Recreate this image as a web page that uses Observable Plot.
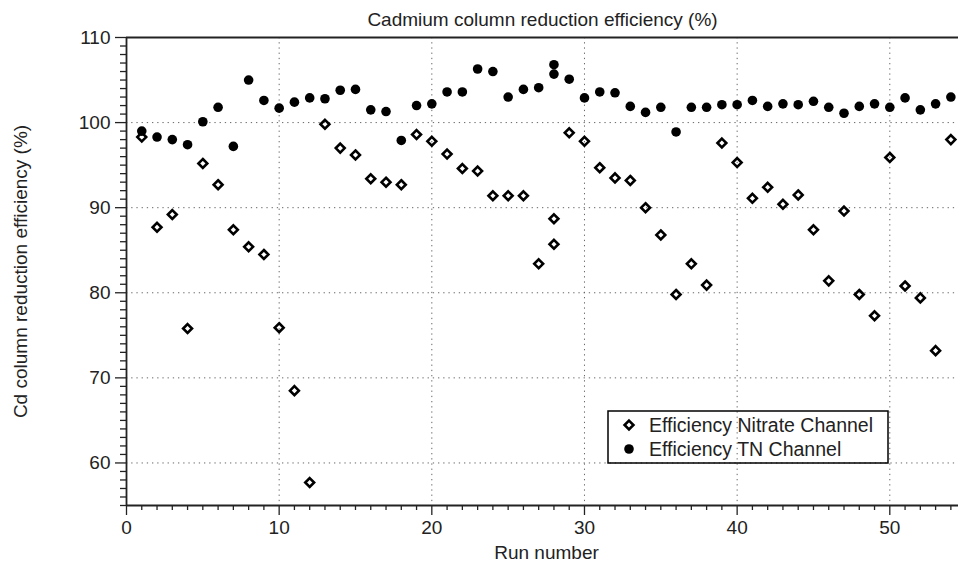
<!DOCTYPE html>
<html>
<head>
<meta charset="utf-8">
<script src="https://cdn.jsdelivr.net/npm/d3@7"></script>
<script src="https://cdn.jsdelivr.net/npm/@observablehq/plot@0.6"></script>
<style>
  html, body { margin: 0; padding: 0; background: #fff; }
</style>
</head>
<body>
<div id="chart"></div>
<script>
const runs = [1,2,3,4,5,6,7,8,9,10,11,12,13,14,15,16,17,18,19,20,21,22,23,24,25,26,27,28,28,29,30,31,32,33,34,35,36,37,38,39,40,41,42,43,44,45,46,47,48,49,50,51,52,53,54];
const nitrate = [98.3,87.7,89.2,75.8,95.2,92.7,87.4,85.4,84.5,75.9,68.5,57.7,99.8,97.0,96.2,93.4,93.0,92.7,98.6,97.8,96.3,94.6,94.3,91.4,91.4,91.4,83.4,85.7,88.7,98.8,97.8,94.7,93.5,93.2,90.0,86.8,79.8,83.4,80.9,97.6,95.3,91.1,92.4,90.4,91.5,87.4,81.4,89.6,79.8,77.3,95.9,80.8,79.4,73.2,98.0];
const tn = [99.0,98.3,98.0,97.4,100.1,101.8,97.2,105.0,102.6,101.7,102.4,102.9,102.8,103.8,103.9,101.5,101.3,97.9,102.0,102.2,103.6,103.6,106.3,106.0,103.0,103.9,104.1,106.8,105.7,105.1,102.9,103.6,103.5,101.9,101.2,101.8,98.9,101.8,101.8,102.1,102.1,102.6,101.9,102.2,102.1,102.5,101.8,101.1,101.9,102.2,101.8,102.9,101.5,102.2,103.0];
const seriesNames = ["Efficiency Nitrate Channel", "Efficiency TN Channel"];
const xMajor = [0,10,20,30,40,50];
const yMajor = [60,70,80,90,100,110];
const titleText = "Cadmium column reduction efficiency (%)";
const xLabel = "Run number";
const yLabel = "Cd column reduction efficiency (%)";

const nitrateData = runs.map((r, i) => ({run: r, value: nitrate[i]}));
const tnData = runs.map((r, i) => ({run: r, value: tn[i]}));

const xMinor = d3.range(0, 55, 1).filter(v => v % 10 !== 0);
const yMinor = d3.range(55, 111, 1).filter(v => v % 10 !== 0);
const grid = {stroke: "#666", strokeOpacity: 1, strokeWidth: 1, strokeDasharray: "1.3,3.9"};
const ink = "#222";
const diamondR = 4.0, diamondW = 2.6, circleR = 4.8;

const plot = Plot.plot({
  width: 958,
  height: 566,
  marginLeft: 126,
  marginRight: 0,
  marginTop: 37,
  marginBottom: 61,
  style: {fontFamily: "'Liberation Sans', Arial, Helvetica, sans-serif", fontSize: "19px", color: ink, background: "#fff"},
  x: {domain: [0, 54.5]},
  y: {domain: [55, 110]},
  marks: [
    Plot.gridX(xMajor.filter(v => v > 0), grid),
    Plot.gridY(yMajor.filter(v => v < 110), grid),
    Plot.axisX(xMinor, {tickSize: 5, strokeWidth: 1.3, stroke: ink, tickFormat: () => "", label: null}),
    Plot.axisX(xMajor, {tickSize: 10, tickPadding: 5, strokeWidth: 1.3, stroke: ink, fill: ink, fontSize: 19, label: null}),
    Plot.axisY(yMinor, {tickSize: 6, strokeWidth: 1.3, stroke: ink, tickFormat: () => "", label: null}),
    Plot.axisY(yMajor, {tickSize: 11, tickPadding: 5, strokeWidth: 1.3, stroke: ink, fill: ink, fontSize: 19, label: null}),
    Plot.ruleY([55], {stroke: ink, strokeWidth: 1.8}),
    Plot.ruleY([110], {stroke: ink, strokeWidth: 1.8}),
    Plot.ruleX([0], {stroke: ink, strokeWidth: 1.8}),
    Plot.dot(nitrateData, {x: "run", y: "value", symbol: "diamond2", r: diamondR, stroke: "#000", strokeWidth: diamondW, fill: "none"}),
    Plot.dot(tnData, {x: "run", y: "value", r: circleR, fill: "#000", stroke: "none"}),
    Plot.text([titleText], {frameAnchor: "top", textAnchor: "middle", lineAnchor: "middle", dy: -18, fontSize: 19, fill: ink}),
    Plot.text([xLabel], {frameAnchor: "bottom", textAnchor: "middle", lineAnchor: "middle", dy: 47, dx: 4, fontSize: 19, fill: ink}),
    Plot.text([yLabel], {frameAnchor: "left", textAnchor: "middle", lineAnchor: "middle", rotate: -90, dx: -106, fontSize: 19, fill: ink})
  ]
});

document.getElementById("chart").appendChild(plot);

// Legend drawn inside the SVG
const svg = d3.select(plot);
const lg = svg.append("g").attr("font-family", "'Liberation Sans', Arial, Helvetica, sans-serif")
  .attr("font-size", 19.5).attr("fill", ink).attr("text-anchor", "start");
lg.append("rect").attr("x", 608).attr("y", 411).attr("width", 280).attr("height", 52)
  .attr("fill", "none").attr("stroke", "#000").attr("stroke-width", 1.5);
lg.append("path").attr("d", d3.symbol(d3.symbolDiamond2, Math.PI * diamondR * diamondR)())
  .attr("transform", "translate(629,425)").attr("fill", "none").attr("stroke", "#000").attr("stroke-width", diamondW);
lg.append("circle").attr("cx", 629).attr("cy", 449).attr("r", circleR).attr("fill", "#000");
seriesNames.forEach((name, i) => {
  lg.append("text").attr("x", 649).attr("y", 425 + i * 24).attr("dy", "0.36em").attr("text-anchor", "start").text(name);
});
</script>
</body>
</html>
